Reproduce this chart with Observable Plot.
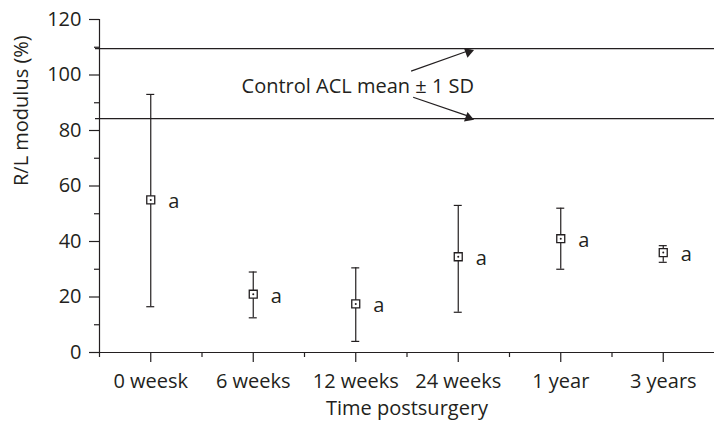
<!DOCTYPE html>
<html>
<head>
<meta charset="utf-8">
<script src="https://cdn.jsdelivr.net/npm/d3@7"></script>
<script src="https://cdn.jsdelivr.net/npm/@observablehq/plot@0.6"></script>
<style>
  html, body { margin: 0; padding: 0; background: #fff; }
</style>
</head>
<body>
<div id="chart"></div>
<script>
const categories = ["0 weesk", "6 weeks", "12 weeks", "24 weeks", "1 year", "3 years"];
const means = [55, 21, 17.5, 34.5, 41, 36];
const upper = [93, 29, 30.5, 53, 52, 38.5];
const lower = [16.5, 12.5, 4, 14.5, 30, 32.5];
const letters = ["a", "a", "a", "a", "a", "a"];
const controlLines = [109.5, 84.3];
const yMajorTicks = [0, 20, 40, 60, 80, 100, 120];
const yMinorTicks = [10, 30, 50, 70, 90, 110];
const annotationText = "Control ACL mean \u00b1 1 SD";
const annotationPos = {x: 2.02, y: 96};
const arrows = [
  {x1: 2.54, y1: 101.4, x2: 3.12, y2: 109.0, hx: 3.10, hy: 108.3, angle: 70},
  {x1: 2.56, y1: 92.0, x2: 3.12, y2: 84.9, hx: 3.10, hy: 84.6, angle: 110}
];

const data = categories.map((c, i) => ({i, c, mean: means[i], hi: upper[i], lo: lower[i], letter: letters[i]}));
const ink = "#231f20";

const chart = Plot.plot({
  width: 714,
  height: 425,
  marginLeft: 99,
  marginRight: 0,
  marginTop: 19,
  marginBottom: 73,
  style: {fontFamily: "'Open Sans', sans-serif", fontSize: "20px", color: ink, background: "#fff"},
  x: {type: "linear", domain: [-0.5, 5.5]},
  y: {domain: [0, 120]},
  marks: [
    // axes
    Plot.axisY({ticks: yMajorTicks, tickSize: 10, tickPadding: 8, label: null, stroke: ink, strokeWidth: 1.2}),
    Plot.axisY({ticks: yMinorTicks, tickSize: 5, tickFormat: () => "", label: null, stroke: ink, strokeWidth: 1.2}),
    Plot.axisX({ticks: d3.range(categories.length), tickSize: 10, tickPadding: 11, tickFormat: d => categories[d], label: null, stroke: ink, strokeWidth: 1.2}),
    Plot.axisX({ticks: d3.range(categories.length - 1).map(d => d + 0.5), tickSize: 5, tickFormat: () => "", label: null, stroke: ink, strokeWidth: 1.2}),
    Plot.ruleX([-0.5], {stroke: ink, strokeWidth: 1.2, insetBottom: -5}),
    Plot.ruleY([0], {stroke: ink, strokeWidth: 1.2, insetLeft: -4}),
    // control lines
    Plot.ruleY(controlLines, {stroke: ink, strokeWidth: 1.2, insetLeft: -4}),
    // error bars
    Plot.ruleX(data, {x: "i", y1: "lo", y2: "hi", stroke: ink, strokeWidth: 1.2}),
    Plot.ruleY(data, {y: "hi", x1: "i", x2: "i", insetLeft: -4, insetRight: -4, stroke: ink, strokeWidth: 1.2}),
    Plot.ruleY(data, {y: "lo", x1: "i", x2: "i", insetLeft: -4, insetRight: -4, stroke: ink, strokeWidth: 1.2}),
    Plot.dot(data, {x: "i", y: "mean", symbol: "square", r: 4.5, fill: "#fff", stroke: ink, strokeWidth: 1.3}),
    Plot.dot(data, {x: "i", y: "mean", r: 1, fill: ink, stroke: null}),
    Plot.text(data, {x: "i", y: "mean", text: "letter", dx: 23, dy: 2, fill: ink}),
    // annotation
    Plot.text([annotationText], {x: annotationPos.x, y: annotationPos.y, fill: ink}),
    Plot.link(arrows, {x1: "x1", y1: "y1", x2: "x2", y2: "y2", stroke: ink, strokeWidth: 1.2}),
    Plot.dot(arrows, {x: "hx", y: "hy", symbol: "triangle", rotate: "angle", r: 3.8, fill: ink, stroke: null}),
    // axis titles
    Plot.text(["R/L modulus (%)"], {frameAnchor: "left", rotate: -90, dx: -78, fill: ink}),
    Plot.text(["Time postsurgery"], {frameAnchor: "bottom", dy: 62, fill: ink})
  ]
});
document.getElementById("chart").appendChild(chart);
</script>
</body>
</html>
